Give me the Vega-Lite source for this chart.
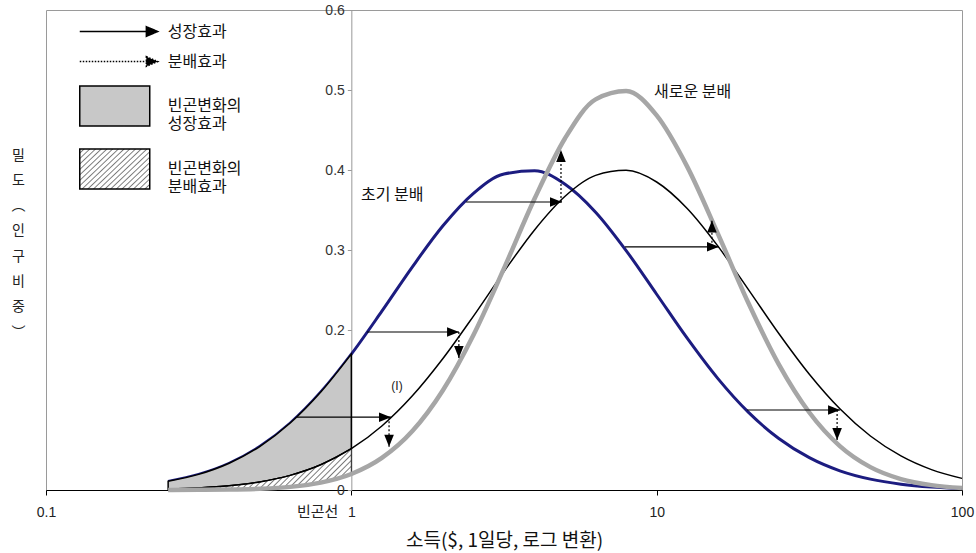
{
  "$schema": "https://vega.github.io/schema/vega-lite/v6.json",
  "width": 916,
  "height": 480,
  "autosize": {"type": "none"},
  "padding": {"left": 46, "top": 10, "right": 14, "bottom": 63},
  "background": "white",
  "config": {
    "view": {"stroke": "#9a9a9a", "strokeWidth": 1},
    "font": "Liberation Sans",
    "axis": {"grid": false, "labelFont": "Liberation Sans", "labelFontSize": 14, "labelColor": "#333333", "labelFlush": false, "labelOverlap": false},
    "legend": {"symbolOpacity": 1, "padding": 0, "rowPadding": 12, "symbolOffset": 0, "labelOffset": 26.5, "labelFont": "Noto Sans CJK KR", "labelFontSize": 16, "labelColor": "#111111", "symbolStrokeWidth": 1.5, "labelLimit": 300}
  },
  "datasets": {
    "curves": [
      {"x": 0.2512, "blue": 0.0108, "black": 0.0012, "gray": 0.0001},
      {"x": 0.3162, "blue": 0.0195, "black": 0.0026, "gray": 0.0002},
      {"x": 0.3981, "blue": 0.0334, "black": 0.0052, "gray": 0.0005},
      {"x": 0.5012, "blue": 0.0543, "black": 0.0101, "gray": 0.0015},
      {"x": 0.631, "blue": 0.0837, "black": 0.0183, "gray": 0.0039},
      {"x": 0.7943, "blue": 0.1224, "black": 0.0315, "gray": 0.0092},
      {"x": 1, "blue": 0.1698, "black": 0.0516, "gray": 0.02},
      {"x": 1.2589, "blue": 0.2235, "black": 0.08, "gray": 0.0401},
      {"x": 1.5849, "blue": 0.279, "black": 0.1177, "gray": 0.0737},
      {"x": 1.9953, "blue": 0.3303, "black": 0.1643, "gray": 0.1247},
      {"x": 2.5119, "blue": 0.3709, "black": 0.2174, "gray": 0.1938},
      {"x": 3.1623, "blue": 0.395, "black": 0.273, "gray": 0.277},
      {"x": 3.9811, "blue": 0.399, "black": 0.3251, "gray": 0.364},
      {"x": 5.0119, "blue": 0.3822, "black": 0.3672, "gray": 0.4397},
      {"x": 6.3096, "blue": 0.3473, "black": 0.3933, "gray": 0.4883},
      {"x": 7.9433, "blue": 0.2993, "black": 0.3996, "gray": 0.4987},
      {"x": 10, "blue": 0.2447, "black": 0.385, "gray": 0.4682},
      {"x": 12.589, "blue": 0.1897, "black": 0.3519, "gray": 0.4042},
      {"x": 15.849, "blue": 0.1395, "black": 0.3051, "gray": 0.3208},
      {"x": 19.953, "blue": 0.0973, "black": 0.2508, "gray": 0.2341},
      {"x": 25.119, "blue": 0.0644, "black": 0.1956, "gray": 0.1571},
      {"x": 31.623, "blue": 0.0404, "black": 0.1447, "gray": 0.0969},
      {"x": 39.811, "blue": 0.024, "black": 0.1015, "gray": 0.0549},
      {"x": 50.119, "blue": 0.0136, "black": 0.0675, "gray": 0.0286},
      {"x": 63.096, "blue": 0.0073, "black": 0.0426, "gray": 0.0137},
      {"x": 79.433, "blue": 0.0037, "black": 0.0255, "gray": 0.0061},
      {"x": 100, "blue": 0.0018, "black": 0.0145, "gray": 0.0025}
    ],
    "arrows": [
      {"x1": 2.376, "x2": 4.898, "y": 0.36, "xd": 4.86, "yd": 0.425},
      {"x1": 7.88, "x2": 16.0, "y": 0.304, "xd": 15.17, "yd": 0.337},
      {"x1": 1.126, "x2": 2.253, "y": 0.1975, "xd": 2.25, "yd": 0.165},
      {"x1": 0.664, "x2": 1.349, "y": 0.091, "xd": 1.329, "yd": 0.054},
      {"x1": 19.77, "x2": 39.87, "y": 0.1, "xd": 38.99, "yd": 0.0625}
    ],
    "notes": [
      {"note": "초기 분배", "x": 1.076, "y": 0.369},
      {"note": "새로운 분배", "x": 9.81, "y": 0.4975},
      {"note": "(I)", "x": 1.411, "y": 0.13},
      {"note": "빈곤선", "x": 1, "y": 0}
    ],
    "legend": [
      {"item": "성장효과"},
      {"item": "분배효과"},
      {"item": "빈곤변화의|성장효과"},
      {"item": "빈곤변화의|분배효과"}
    ]
  },
  "layer": [
    {
      "data": {"name": "curves"},
      "mark": {"type": "line", "color": "#1c1c80", "strokeWidth": 3, "interpolate": "monotone"},
      "encoding": {
        "x": {
          "field": "x", "type": "quantitative",
          "scale": {"type": "log", "domain": [0.1, 100], "nice": false},
          "axis": {
            "title": "소득($, 1일당, 로그 변환)", "values": [0.1, 1, 10, 100], "format": "~g",
            "domainColor": "#000000", "tickColor": "#000000", "tickSize": 5, "labelPadding": 10,
            "labelColor": "#222222",
            "titleFont": "Noto Sans CJK KR", "titleFontSize": 19, "titleFontWeight": "normal", "titleColor": "#111111",
            "titleX": 458, "titleY": 50, "titleBaseline": "middle", "titleAlign": "center"
          }
        },
        "y": {
          "field": "blue", "type": "quantitative",
          "scale": {"domain": [0, 0.6], "nice": false},
          "axis": {
            "title": ["밀", "도", "︵", "인", "구", "비", "중", "︶"],
            "values": [0, 0.1, 0.2, 0.3, 0.4, 0.5, 0.6], "format": "~g",
            "offset": -305.33, "domainColor": "#999999", "tickColor": "#999999", "tickSize": 4, "labelPadding": 3,
            "titleFont": "Noto Sans CJK KR", "titleFontSize": 14, "titleFontWeight": "normal", "titleColor": "#222222",
            "titleAngle": 0, "titleX": -333.3, "titleY": 145, "titleAlign": "center", "titleBaseline": "middle", "titleLineHeight": 25.3
          }
        }
      }
    },
    {
      "data": {"name": "curves"},
      "transform": [{"filter": "datum.x <= 1.0001"}],
      "mark": {"type": "area", "fill": "#c8c8c8", "stroke": "#000000", "strokeWidth": 1.5, "interpolate": "monotone"},
      "encoding": {
        "x": {"field": "x", "type": "quantitative"},
        "y": {"field": "blue", "type": "quantitative"},
        "y2": {"field": "black"}
      }
    },
    {
      "data": {"name": "curves"},
      "transform": [{"filter": "datum.x <= 1.0001"}],
      "mark": {
        "type": "area", "stroke": "#222222", "strokeWidth": 1, "interpolate": "monotone",
        "fill": {
          "gradient": "linear", "x1": 0, "y1": 0, "x2": 1.2, "y2": 0.27,
          "stops": [
            {"offset": 0, "color": "#ffffff"}, {"offset": 0.013, "color": "#ffffff"}, {"offset": 0.019, "color": "#7a7a7a"},
            {"offset": 0.025, "color": "#ffffff"}, {"offset": 0.038, "color": "#ffffff"}, {"offset": 0.044, "color": "#7a7a7a"},
            {"offset": 0.05, "color": "#ffffff"}, {"offset": 0.063, "color": "#ffffff"}, {"offset": 0.069, "color": "#7a7a7a"},
            {"offset": 0.075, "color": "#ffffff"}, {"offset": 0.088, "color": "#ffffff"}, {"offset": 0.094, "color": "#7a7a7a"},
            {"offset": 0.1, "color": "#ffffff"}, {"offset": 0.113, "color": "#ffffff"}, {"offset": 0.119, "color": "#7a7a7a"},
            {"offset": 0.125, "color": "#ffffff"}, {"offset": 0.138, "color": "#ffffff"}, {"offset": 0.144, "color": "#7a7a7a"},
            {"offset": 0.15, "color": "#ffffff"}, {"offset": 0.163, "color": "#ffffff"}, {"offset": 0.169, "color": "#7a7a7a"},
            {"offset": 0.175, "color": "#ffffff"}, {"offset": 0.188, "color": "#ffffff"}, {"offset": 0.194, "color": "#7a7a7a"},
            {"offset": 0.2, "color": "#ffffff"}, {"offset": 0.213, "color": "#ffffff"}, {"offset": 0.219, "color": "#7a7a7a"},
            {"offset": 0.225, "color": "#ffffff"}, {"offset": 0.238, "color": "#ffffff"}, {"offset": 0.244, "color": "#7a7a7a"},
            {"offset": 0.25, "color": "#ffffff"}, {"offset": 0.263, "color": "#ffffff"}, {"offset": 0.269, "color": "#7a7a7a"},
            {"offset": 0.275, "color": "#ffffff"}, {"offset": 0.288, "color": "#ffffff"}, {"offset": 0.294, "color": "#7a7a7a"},
            {"offset": 0.3, "color": "#ffffff"}, {"offset": 0.313, "color": "#ffffff"}, {"offset": 0.319, "color": "#7a7a7a"},
            {"offset": 0.325, "color": "#ffffff"}, {"offset": 0.338, "color": "#ffffff"}, {"offset": 0.344, "color": "#7a7a7a"},
            {"offset": 0.35, "color": "#ffffff"}, {"offset": 0.363, "color": "#ffffff"}, {"offset": 0.369, "color": "#7a7a7a"},
            {"offset": 0.375, "color": "#ffffff"}, {"offset": 0.388, "color": "#ffffff"}, {"offset": 0.394, "color": "#7a7a7a"},
            {"offset": 0.4, "color": "#ffffff"}, {"offset": 0.413, "color": "#ffffff"}, {"offset": 0.419, "color": "#7a7a7a"},
            {"offset": 0.425, "color": "#ffffff"}, {"offset": 0.438, "color": "#ffffff"}, {"offset": 0.444, "color": "#7a7a7a"},
            {"offset": 0.45, "color": "#ffffff"}, {"offset": 0.463, "color": "#ffffff"}, {"offset": 0.469, "color": "#7a7a7a"},
            {"offset": 0.475, "color": "#ffffff"}, {"offset": 0.488, "color": "#ffffff"}, {"offset": 0.494, "color": "#7a7a7a"},
            {"offset": 0.5, "color": "#ffffff"}, {"offset": 0.513, "color": "#ffffff"}, {"offset": 0.519, "color": "#7a7a7a"},
            {"offset": 0.525, "color": "#ffffff"}, {"offset": 0.538, "color": "#ffffff"}, {"offset": 0.544, "color": "#7a7a7a"},
            {"offset": 0.55, "color": "#ffffff"}, {"offset": 0.563, "color": "#ffffff"}, {"offset": 0.569, "color": "#7a7a7a"},
            {"offset": 0.575, "color": "#ffffff"}, {"offset": 0.588, "color": "#ffffff"}, {"offset": 0.594, "color": "#7a7a7a"},
            {"offset": 0.6, "color": "#ffffff"}, {"offset": 0.613, "color": "#ffffff"}, {"offset": 0.619, "color": "#7a7a7a"},
            {"offset": 0.625, "color": "#ffffff"}, {"offset": 0.638, "color": "#ffffff"}, {"offset": 0.644, "color": "#7a7a7a"},
            {"offset": 0.65, "color": "#ffffff"}, {"offset": 0.663, "color": "#ffffff"}, {"offset": 0.669, "color": "#7a7a7a"},
            {"offset": 0.675, "color": "#ffffff"}, {"offset": 0.688, "color": "#ffffff"}, {"offset": 0.694, "color": "#7a7a7a"},
            {"offset": 0.7, "color": "#ffffff"}, {"offset": 0.713, "color": "#ffffff"}, {"offset": 0.719, "color": "#7a7a7a"},
            {"offset": 0.725, "color": "#ffffff"}, {"offset": 0.738, "color": "#ffffff"}, {"offset": 0.744, "color": "#7a7a7a"},
            {"offset": 0.75, "color": "#ffffff"}, {"offset": 0.763, "color": "#ffffff"}, {"offset": 0.769, "color": "#7a7a7a"},
            {"offset": 0.775, "color": "#ffffff"}, {"offset": 0.788, "color": "#ffffff"}, {"offset": 0.794, "color": "#7a7a7a"},
            {"offset": 0.8, "color": "#ffffff"}, {"offset": 0.813, "color": "#ffffff"}, {"offset": 0.819, "color": "#7a7a7a"},
            {"offset": 0.825, "color": "#ffffff"}, {"offset": 0.838, "color": "#ffffff"}, {"offset": 0.844, "color": "#7a7a7a"},
            {"offset": 0.85, "color": "#ffffff"}, {"offset": 0.863, "color": "#ffffff"}, {"offset": 0.869, "color": "#7a7a7a"},
            {"offset": 0.875, "color": "#ffffff"}, {"offset": 0.888, "color": "#ffffff"}, {"offset": 0.894, "color": "#7a7a7a"},
            {"offset": 0.9, "color": "#ffffff"}, {"offset": 0.913, "color": "#ffffff"}, {"offset": 0.919, "color": "#7a7a7a"},
            {"offset": 0.925, "color": "#ffffff"}, {"offset": 0.938, "color": "#ffffff"}, {"offset": 0.944, "color": "#7a7a7a"},
            {"offset": 0.95, "color": "#ffffff"}, {"offset": 0.963, "color": "#ffffff"}, {"offset": 0.969, "color": "#7a7a7a"},
            {"offset": 0.975, "color": "#ffffff"}, {"offset": 0.988, "color": "#ffffff"}, {"offset": 0.994, "color": "#7a7a7a"},
            {"offset": 1, "color": "#ffffff"}
          ]
        }
      },
      "encoding": {
        "x": {"field": "x", "type": "quantitative"},
        "y": {"field": "black", "type": "quantitative"},
        "y2": {"field": "gray"}
      }
    },
    {
      "data": {"name": "curves"},
      "mark": {"type": "line", "color": "#000000", "strokeWidth": 1.5, "interpolate": "monotone"},
      "encoding": {
        "x": {"field": "x", "type": "quantitative"},
        "y": {"field": "black", "type": "quantitative"}
      }
    },
    {
      "data": {"name": "curves"},
      "mark": {"type": "line", "color": "#a6a6a6", "strokeWidth": 4.5, "interpolate": "monotone"},
      "encoding": {
        "x": {"field": "x", "type": "quantitative"},
        "y": {"field": "gray", "type": "quantitative"}
      }
    },
    {
      "data": {"name": "arrows"},
      "mark": {"type": "rule", "color": "#000000", "strokeWidth": 1.2},
      "encoding": {
        "x": {"field": "x1", "type": "quantitative"},
        "x2": {"field": "x2"},
        "y": {"field": "y", "type": "quantitative"}
      }
    },
    {
      "data": {"name": "arrows"},
      "mark": {"type": "point", "shape": "M0,0L-4,-1.6L-4,1.6Z", "filled": true, "color": "#000000", "opacity": 1, "size": 36},
      "encoding": {
        "x": {"field": "x2", "type": "quantitative"},
        "y": {"field": "y", "type": "quantitative"}
      }
    },
    {
      "data": {"name": "arrows"},
      "mark": {"type": "rule", "color": "#000000", "strokeWidth": 1.2, "strokeDash": [2, 2]},
      "encoding": {
        "x": {"field": "xd", "type": "quantitative"},
        "y": {"field": "y", "type": "quantitative"},
        "y2": {"field": "yd"}
      }
    },
    {
      "data": {"name": "arrows"},
      "transform": [{"filter": "datum.yd > datum.y"}],
      "mark": {"type": "point", "shape": "M0,0L-1.6,4L1.6,4Z", "filled": true, "color": "#000000", "opacity": 1, "size": 36},
      "encoding": {
        "x": {"field": "xd", "type": "quantitative"},
        "y": {"field": "yd", "type": "quantitative"}
      }
    },
    {
      "data": {"name": "arrows"},
      "transform": [{"filter": "datum.yd < datum.y"}],
      "mark": {"type": "point", "shape": "M0,0L-1.6,-4L1.6,-4Z", "filled": true, "color": "#000000", "opacity": 1, "size": 36},
      "encoding": {
        "x": {"field": "xd", "type": "quantitative"},
        "y": {"field": "yd", "type": "quantitative"}
      }
    },
    {
      "data": {"name": "notes"},
      "transform": [{"filter": "datum.note == '초기 분배' || datum.note == '새로운 분배'"}],
      "mark": {"type": "text", "font": "Noto Sans CJK KR", "fontSize": 16, "color": "#111111", "align": "left", "baseline": "middle"},
      "encoding": {
        "x": {"field": "x", "type": "quantitative"},
        "y": {"field": "y", "type": "quantitative"},
        "text": {"field": "note"}
      }
    },
    {
      "data": {"name": "notes"},
      "transform": [{"filter": "datum.note == '(I)'"}],
      "mark": {"type": "text", "font": "Liberation Sans", "fontSize": 12, "color": "#222222", "align": "center", "baseline": "middle"},
      "encoding": {
        "x": {"field": "x", "type": "quantitative"},
        "y": {"field": "y", "type": "quantitative"},
        "text": {"field": "note"}
      }
    },
    {
      "data": {"name": "notes"},
      "transform": [{"filter": "datum.note == '빈곤선'"}],
      "mark": {"type": "text", "font": "Noto Sans CJK KR", "fontSize": 15, "color": "#222222", "align": "right", "baseline": "middle", "dx": -13, "dy": 22},
      "encoding": {
        "x": {"field": "x", "type": "quantitative"},
        "y": {"field": "y", "type": "quantitative"},
        "text": {"field": "note"}
      }
    },
    {
      "data": {"name": "legend"},
      "mark": {"type": "point", "filled": true, "opacity": 0, "stroke": "#000000", "strokeWidth": 1.5},
      "encoding": {
        "fill": {
          "field": "item", "type": "nominal", "title": null,
          "scale": {
            "domain": ["성장효과", "분배효과", "빈곤변화의|성장효과", "빈곤변화의|분배효과"],
            "range": [
              "#000000", "#000000", "#c8c8c8",
              {"expr": "{gradient: 'linear', x1: 0, y1: 0, x2: 1.2, y2: 0.72, stops: [{offset: 0, color: '#ffffff'}, {offset: 0.026, color: '#ffffff'}, {offset: 0.038, color: '#7a7a7a'}, {offset: 0.05, color: '#ffffff'}, {offset: 0.076, color: '#ffffff'}, {offset: 0.088, color: '#7a7a7a'}, {offset: 0.1, color: '#ffffff'}, {offset: 0.126, color: '#ffffff'}, {offset: 0.138, color: '#7a7a7a'}, {offset: 0.15, color: '#ffffff'}, {offset: 0.176, color: '#ffffff'}, {offset: 0.188, color: '#7a7a7a'}, {offset: 0.2, color: '#ffffff'}, {offset: 0.226, color: '#ffffff'}, {offset: 0.238, color: '#7a7a7a'}, {offset: 0.25, color: '#ffffff'}, {offset: 0.276, color: '#ffffff'}, {offset: 0.288, color: '#7a7a7a'}, {offset: 0.3, color: '#ffffff'}, {offset: 0.326, color: '#ffffff'}, {offset: 0.338, color: '#7a7a7a'}, {offset: 0.35, color: '#ffffff'}, {offset: 0.376, color: '#ffffff'}, {offset: 0.388, color: '#7a7a7a'}, {offset: 0.4, color: '#ffffff'}, {offset: 0.426, color: '#ffffff'}, {offset: 0.438, color: '#7a7a7a'}, {offset: 0.45, color: '#ffffff'}, {offset: 0.476, color: '#ffffff'}, {offset: 0.488, color: '#7a7a7a'}, {offset: 0.5, color: '#ffffff'}, {offset: 0.526, color: '#ffffff'}, {offset: 0.538, color: '#7a7a7a'}, {offset: 0.55, color: '#ffffff'}, {offset: 0.576, color: '#ffffff'}, {offset: 0.588, color: '#7a7a7a'}, {offset: 0.6, color: '#ffffff'}, {offset: 0.626, color: '#ffffff'}, {offset: 0.638, color: '#7a7a7a'}, {offset: 0.65, color: '#ffffff'}, {offset: 0.676, color: '#ffffff'}, {offset: 0.688, color: '#7a7a7a'}, {offset: 0.7, color: '#ffffff'}, {offset: 0.726, color: '#ffffff'}, {offset: 0.738, color: '#7a7a7a'}, {offset: 0.75, color: '#ffffff'}, {offset: 0.776, color: '#ffffff'}, {offset: 0.788, color: '#7a7a7a'}, {offset: 0.8, color: '#ffffff'}, {offset: 0.826, color: '#ffffff'}, {offset: 0.838, color: '#7a7a7a'}, {offset: 0.85, color: '#ffffff'}, {offset: 0.876, color: '#ffffff'}, {offset: 0.888, color: '#7a7a7a'}, {offset: 0.9, color: '#ffffff'}, {offset: 0.926, color: '#ffffff'}, {offset: 0.938, color: '#7a7a7a'}, {offset: 0.95, color: '#ffffff'}, {offset: 0.976, color: '#ffffff'}, {offset: 0.988, color: '#7a7a7a'}, {offset: 1, color: '#ffffff'}]}"}
            ]
          },
          "legend": {
            "orient": "none", "legendX": 46.25, "legendY": 11.5,
            "labelExpr": "split(datum.label, '|')"
          }
        },
        "shape": {
          "field": "item", "type": "nominal", "title": null,
          "scale": {
            "domain": ["성장효과", "분배효과", "빈곤변화의|성장효과", "빈곤변화의|분배효과"],
            "range": [
              "M-4,0L3.35,0M3.2,-0.52L4.43,0L3.2,0.52Z",
              "M-4,0L3.35,0M3.2,-0.52L4.43,0L3.2,0.52Z",
              "M-1.574,-0.851L1.404,-0.851L1.404,0.851L-1.574,0.851Z",
              "M-1.574,-0.851L1.404,-0.851L1.404,0.851L-1.574,0.851Z"
            ]
          },
          "legend": {"orient": "none", "legendX": 46.25, "legendY": 11.5, "labelExpr": "split(datum.label, '|')"}
        },
        "strokeDash": {
          "field": "item", "type": "nominal", "title": null,
          "scale": {
            "domain": ["성장효과", "분배효과", "빈곤변화의|성장효과", "빈곤변화의|분배효과"],
            "range": [[1, 0], [1.5, 1.5], [1, 0], [1, 0]]
          },
          "legend": {"orient": "none", "legendX": 46.25, "legendY": 11.5, "labelExpr": "split(datum.label, '|')"}
        },
        "size": {
          "field": "item", "type": "nominal", "title": null,
          "scale": {
            "type": "ordinal",
            "domain": ["성장효과", "분배효과", "빈곤변화의|성장효과", "빈곤변화의|분배효과"],
            "range": [342.25, 342.25, 2209, 2209]
          },
          "legend": {"orient": "none", "legendX": 46.25, "legendY": 11.5, "labelExpr": "split(datum.label, '|')"}
        }
      }
    }
  ]
}
